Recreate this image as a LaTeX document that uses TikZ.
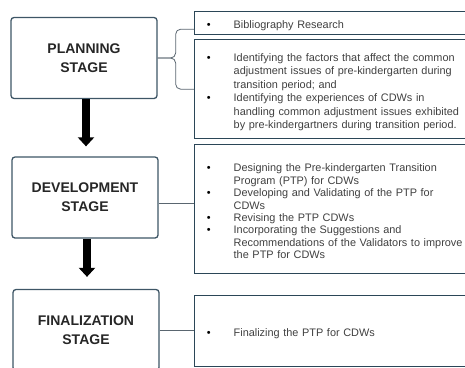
\documentclass[tikz,border=0pt]{standalone}
\usepackage{fontspec}
\setmainfont{Liberation Sans}
\usepackage{xcolor}
\usepackage{enumitem}
\usetikzlibrary{arrows.meta}
\definecolor{StageLine}{HTML}{3E5666}
\definecolor{TaskLine}{HTML}{2B4657}
\definecolor{LinkLine}{HTML}{5A6670}
\definecolor{TaskText}{HTML}{404040}
\setlist[itemize]{leftmargin=39pt, labelsep=23pt, nosep,
    label=\textcolor{black}{\textbullet}}

\begin{document}
\begin{tikzpicture}[
    x=1pt,
    y=-1pt,
    every node/.style={font=\fontsize{10.9}{13.5}\selectfont},
    stagebox/.style={draw=StageLine, rounded corners=3pt, align=center,
        minimum width=146pt, minimum height=81pt, line width=1.3pt,
        font=\fontsize{14}{19}\selectfont\bfseries, text=black!85},
    taskbox/.style={draw=TaskLine, anchor=north west, align=left,
        text width=320pt, inner xsep=0pt, inner ysep=0pt,
        line width=1.4pt, text=TaskText},
    flow/.style={-{Triangle[width=16pt,length=9pt]}, draw=black,
        line width=7.5pt},
    link/.style={draw=LinkLine, line width=0.8pt},
    brace/.style={link, rounded corners=5pt}
]
    \useasboundingbox (0,0) rectangle (465,367);
    \clip (0,0) rectangle (465,367);

    \node[stagebox] (plan) at (84,58) {PLANNING\\STAGE};
    \node[stagebox] (dev) at (85,197.5) {DEVELOPMENT\\STAGE};
    \node[stagebox] (fin) at (86,330) {FINALIZATION\\STAGE};

    \node[taskbox, minimum height=23pt] (bib) at (194,11)
        {\begin{itemize}\item Bibliography Research\end{itemize}};
    \node[taskbox, minimum height=99pt] (idf) at (194,39)
        {\begin{itemize}
        \item Identifying the factors that affect the common\newline
            adjustment issues of pre-kindergarten during\newline
            transition period; and
        \item Identifying the experiences of CDWs in\newline
            handling common adjustment issues exhibited\newline
            by pre-kindergartners during transition period.
        \end{itemize}};
    \node[taskbox, minimum height=129pt,
        font=\fontsize{10.9}{12.4}\selectfont] (dsg) at (194,144)
        {\begin{itemize}
        \item Designing the Pre-kindergarten Transition\newline
            Program (PTP) for CDWs
        \item Developing and Validating of the PTP for\newline CDWs
        \item Revising the PTP CDWs
        \item Incorporating the Suggestions and\newline
            Recommendations of the Validators to improve\newline
            the PTP for CDWs
        \end{itemize}};
    \node[taskbox, minimum height=71pt] (fnl) at (194,295)
        {\begin{itemize}\item Finalizing the PTP for CDWs\end{itemize}};

    \draw[flow, shorten >=10pt] ([xshift=2pt]plan.south)
        -- ([xshift=2pt]plan.south |- dev.north);
    \draw[flow, shorten >=12pt] ([xshift=2pt]dev.south)
        -- ([xshift=2pt]dev.south |- fin.north);

    \coordinate (bibin) at ([yshift=-6pt]bib.west);
    \draw[brace] (plan.east) -- ++(18,0) |- (bibin);
    \draw[brace] (plan.east) -- ++(18,0) |- (idf.west);
    \draw[link] ([yshift=-5.5pt]dev.east)
        -- ([yshift=-5.5pt]dev.east -| dsg.west);
    \draw[link] (fin.east) -- (fin.east -| fnl.west);
\end{tikzpicture}
\end{document}
